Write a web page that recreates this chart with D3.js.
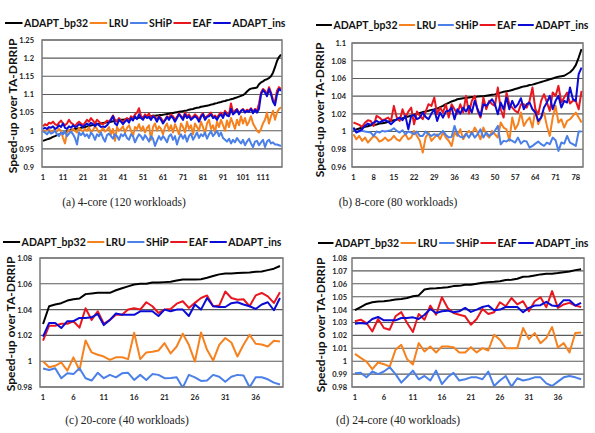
<!DOCTYPE html>
<html><head><meta charset="utf-8">
<script src="https://cdn.jsdelivr.net/npm/d3@7"></script>
<style>
body{margin:0;background:#fff;}
svg{display:block;}
</style></head>
<body>
<svg id="chart" width="595" height="433"></svg>
<script>
// ---------------- DATA ----------------
const seriesNames = ["ADAPT_bp32","LRU","SHiP","EAF","ADAPT_ins"];

// (a) 4-core, 120 workloads
const a_bp32 = [0.972,0.974,0.976,0.978,0.980,0.983,0.985,0.988,0.990,0.992,
0.994,0.996,0.998,1.000,1.002,1.003,1.005,1.006,1.007,1.008,
1.009,1.010,1.012,1.013,1.014,1.016,1.017,1.018,1.019,1.020,
1.021,1.022,1.023,1.024,1.025,1.026,1.027,1.028,1.029,1.030,
1.030,1.031,1.032,1.032,1.033,1.034,1.035,1.035,1.036,1.037,
1.037,1.038,1.039,1.039,1.040,1.041,1.041,1.042,1.043,1.043,
1.044,1.045,1.046,1.047,1.048,1.049,1.050,1.051,1.052,1.053,
1.054,1.055,1.056,1.058,1.059,1.060,1.062,1.063,1.064,1.066,
1.067,1.068,1.069,1.070,1.072,1.073,1.075,1.076,1.078,1.079,
1.081,1.082,1.084,1.085,1.087,1.088,1.090,1.092,1.094,1.096,
1.098,1.102,1.108,1.113,1.116,1.117,1.118,1.119,1.128,1.133,
1.136,1.140,1.142,1.145,1.150,1.160,1.175,1.192,1.203,1.210];
const a_lru = [1.000,0.998,1.002,1.005,0.995,1.000,1.003,0.998,1.005,1.000,
0.980,0.965,0.995,1.002,0.998,1.005,1.000,0.995,1.008,1.002,
0.998,1.005,1.000,1.010,0.995,1.002,1.012,1.005,0.995,1.000,
1.008,0.998,1.002,1.010,0.990,1.005,0.972,1.010,1.000,1.005,
1.012,0.995,1.008,1.015,1.000,0.985,1.010,1.005,1.018,1.000,
1.012,0.995,1.008,1.015,0.975,1.010,1.020,1.000,1.012,1.005,
0.990,1.010,1.020,1.000,1.015,0.995,1.018,1.005,0.990,1.020,
1.010,0.995,1.025,1.005,1.015,0.990,1.020,1.010,1.000,1.025,
1.010,0.992,1.020,1.030,1.005,1.015,0.995,1.025,1.010,1.030,
1.015,1.000,1.028,1.010,1.035,1.020,1.005,1.030,1.015,1.040,
1.020,1.035,1.015,1.025,1.040,1.020,1.010,1.000,0.995,1.005,
1.020,1.030,1.050,1.020,1.040,1.055,1.030,1.050,1.060,1.065];
const a_ship = [0.998,0.995,0.990,0.998,0.992,0.995,1.000,0.990,0.985,0.995,
0.990,0.998,0.985,0.992,0.998,0.990,0.980,0.962,0.995,0.988,
0.995,0.985,0.990,0.980,0.995,0.988,0.975,0.990,0.985,0.995,
0.980,0.970,0.988,0.992,0.985,0.978,0.990,0.985,0.975,0.990,
0.985,0.992,0.980,0.975,0.990,0.985,0.968,0.980,0.990,0.985,
0.975,0.988,0.980,0.970,0.985,0.978,0.958,0.972,0.985,0.975,
0.985,0.978,0.968,0.985,0.990,0.975,0.985,0.962,0.980,0.990,
0.978,0.988,0.970,0.985,0.992,0.975,0.985,0.995,0.980,0.990,
0.985,0.995,0.978,0.990,0.998,0.985,0.992,1.000,0.985,0.995,
0.980,0.975,0.970,0.978,0.965,0.975,0.968,0.980,0.972,0.965,
0.975,0.960,0.970,0.978,0.965,0.955,0.970,0.972,0.960,0.968,
0.975,0.955,0.970,0.975,0.965,0.968,0.962,0.962,0.960,0.958];
const a_eaf = [1.012,1.018,1.015,1.022,1.020,1.025,1.018,1.015,1.022,1.028,
1.020,1.015,1.020,1.030,1.022,1.018,1.012,1.020,1.025,1.020,
1.015,1.022,1.030,1.025,1.035,1.028,1.020,1.030,1.025,1.020,
1.018,1.022,1.028,1.025,1.032,1.042,1.030,1.025,1.035,1.028,
1.022,1.030,1.035,1.028,1.040,1.035,1.045,1.050,1.062,1.040,
1.035,1.045,1.040,1.048,1.035,1.042,1.038,1.030,1.040,1.035,
1.025,1.030,1.040,1.035,1.045,1.040,1.030,1.038,1.048,1.040,
1.035,1.050,1.040,1.045,1.035,1.038,1.045,1.040,1.030,1.042,
1.048,1.035,1.040,1.045,1.050,1.038,1.042,1.035,1.045,1.050,
1.040,1.055,1.048,1.045,1.075,1.050,1.055,1.060,1.048,1.055,
1.060,1.052,1.058,1.055,1.062,1.052,1.060,1.055,1.075,1.105,
1.115,1.110,1.100,1.120,1.105,1.085,1.080,1.110,1.120,1.115];
const a_ins = [1.005,1.008,1.005,1.010,1.008,1.012,1.005,1.008,1.015,1.010,
1.020,1.008,1.005,1.012,1.008,1.015,1.010,1.012,1.018,1.015,
1.010,1.015,1.020,1.015,1.022,1.018,1.012,1.020,1.015,1.010,
1.012,1.010,1.015,1.022,1.030,1.040,1.020,1.015,1.030,1.025,
1.018,1.025,1.030,1.022,1.035,1.028,1.040,1.032,1.045,1.035,
1.030,1.040,1.035,1.038,1.030,1.040,1.035,1.025,1.038,1.030,
1.020,1.028,1.038,1.030,1.040,1.035,1.025,1.035,1.045,1.038,
1.030,1.045,1.035,1.040,1.030,1.035,1.040,1.035,1.025,1.038,
1.045,1.030,1.038,1.040,1.045,1.035,1.038,1.030,1.040,1.045,
1.035,1.050,1.042,1.040,1.060,1.045,1.050,1.058,1.045,1.055,
1.058,1.050,1.055,1.052,1.060,1.048,1.058,1.050,1.060,1.100,
1.112,1.105,1.095,1.115,1.100,1.080,1.070,1.100,1.115,1.110];
const a_xTicks = [1,11,21,31,41,51,61,71,81,91,101,111];
const a_yTicks = [0.9,0.95,1,1.05,1.1,1.15,1.2,1.25];

// (b) 8-core, 80 workloads
const b_bp32 = [1.0015,1.0025,1.0035,1.0045,1.0055,1.006,1.007,1.0075,1.008,1.009,
1.0095,1.010,1.011,1.012,1.0128,1.0135,1.014,1.015,1.016,1.017,
1.018,1.019,1.020,1.021,1.022,1.0226,1.0235,1.0245,1.025,1.026,
1.0275,1.029,1.031,1.0325,1.034,1.035,1.0365,1.037,1.0375,1.038,
1.0385,1.039,1.039,1.0395,1.040,1.040,1.0405,1.041,1.0415,1.042,
1.043,1.044,1.045,1.0455,1.046,1.047,1.048,1.049,1.050,1.051,
1.0515,1.0525,1.053,1.054,1.055,1.056,1.057,1.058,1.059,1.060,
1.061,1.062,1.0625,1.063,1.065,1.067,1.070,1.075,1.0836,1.093];
const b_lru = [0.997,0.9913,0.9951,0.9895,0.9932,0.9876,0.9913,0.9951,0.9932,0.9887,
0.9902,0.9932,0.9895,0.9913,0.9951,0.9913,0.9895,0.994,0.997,0.9913,
0.9932,1.0008,0.9951,0.9895,0.9763,0.9932,0.9989,0.9895,0.9932,0.997,
0.9913,0.9989,0.9932,0.9895,0.9838,0.9989,0.9951,1.0026,0.9913,0.997,
1.0008,0.997,1.0045,0.9989,0.9913,1.0045,0.997,0.9932,1.0008,0.997,
0.9932,1.0102,1.0045,1.0026,0.9895,1.0158,1.0026,1.0083,1.0215,1.0064,
1.012,1.0158,1.0045,1.0252,1.0083,1.0158,1.0215,1.0064,0.9951,1.0158,
1.029,1.0102,1.0139,1.0045,1.012,1.0139,1.0177,1.0215,1.0158,1.0102];
const b_ship = [1.0026,1.0,1.0,1.0008,1.0,0.9996,0.9989,0.9951,1.0,0.9989,
1.0008,1.0,1.0008,1.0015,1.0038,1.0008,0.9989,1.0015,0.997,1.0,
0.9989,0.997,1.0,0.9951,0.9951,1.0,0.997,0.9951,0.997,0.9951,
0.9977,1.0008,0.9962,0.9932,0.994,1.0064,0.997,0.994,0.9932,0.9977,
0.9932,0.9989,0.9932,0.997,1.0026,0.9932,0.9989,0.9951,0.997,1.0008,
1.0064,0.9857,0.9895,0.9887,0.9913,0.9895,0.9876,0.9932,0.9864,0.9895,
0.9887,0.9819,0.9838,0.9864,0.9887,0.9857,0.9838,0.9876,0.9857,0.9932,
0.9902,0.9782,0.9876,0.9864,0.9951,0.9876,0.9857,0.9838,1.0,1.0];
const b_eaf = [1.0102,1.009,1.0075,1.0053,1.010,1.0128,1.012,1.0064,1.0177,1.0158,
1.0128,1.014,1.0158,1.012,1.029,1.0158,1.012,1.0252,1.0158,1.0226,
1.0271,1.0083,1.0226,1.0177,1.014,1.0226,1.0309,1.029,1.0384,1.0196,
1.0271,1.0215,1.0309,1.0158,1.0309,1.0252,1.0203,1.0309,1.0215,1.0403,
1.0203,1.0347,1.0403,1.0234,1.0158,1.0384,1.0252,1.0347,1.0309,1.029,
1.0497,1.0252,1.0158,1.0441,1.0309,1.0271,1.0234,1.0215,1.0309,1.0309,
1.0271,1.0347,1.0497,1.0252,1.0196,1.0347,1.0422,1.0328,1.0234,1.0441,
1.0403,1.0516,1.0328,1.0384,1.0441,1.0316,1.0347,1.0347,1.0252,1.046];
const b_ins = [1.0045,0.9989,1.0008,1.0026,1.0064,1.009,1.0075,1.0102,1.012,1.0102,
1.012,1.0128,1.0113,1.0083,1.0113,1.014,1.0158,1.0128,1.0177,1.0026,
1.0177,1.0188,1.014,1.0158,1.0215,1.0166,1.014,1.0203,1.0252,1.012,
1.0215,1.0158,1.0226,1.0234,1.0271,1.014,1.0252,1.0203,1.0271,1.0226,
1.029,1.0215,1.0347,1.0252,1.0177,1.0309,1.029,1.0328,1.0365,1.0309,
1.0196,1.0328,1.0252,1.0384,1.0252,1.0347,1.0271,1.0309,1.0377,1.0252,
1.0309,1.0328,1.0252,1.0215,1.012,1.0158,1.0271,1.0328,1.0403,1.0252,
1.0347,1.0403,1.0271,1.0347,1.0328,1.0497,1.0365,1.0347,1.0648,1.0723];
const b_xTicks = [1,8,15,22,29,36,43,50,57,64,71,78];
const b_yTicks = [0.96,0.98,1,1.02,1.04,1.06,1.08,1.1];

// (c) 20-core, 40 workloads
const c_bp32 = [1.0288,1.0426,1.044,1.045,1.047,1.048,1.0486,1.052,1.0525,1.053,
1.053,1.053,1.055,1.0566,1.058,1.0595,1.060,1.060,1.061,1.061,
1.0613,1.0616,1.0626,1.0634,1.0634,1.0634,1.0636,1.0647,1.066,1.0673,
1.068,1.068,1.0683,1.0686,1.0688,1.0694,1.0696,1.0706,1.0717,1.0738];
const c_lru = [1.0,0.9953,0.9964,0.999,0.9927,1.003,0.993,1.016,1.0068,1.005,
1.0036,1.001,1.003,1.003,1.0016,1.022,1.0016,1.0068,1.0073,1.0083,
1.014,1.006,1.0114,1.0213,1.0127,0.9997,1.0223,1.0088,1.0005,1.0127,
1.018,1.0145,1.0036,1.0127,1.0205,1.0135,1.013,1.0114,1.0158,1.0153];
const c_ship = [0.9943,0.9932,0.9945,0.9868,0.9906,0.990,0.9945,0.9868,0.985,0.991,
0.9868,0.9894,0.9875,0.9906,0.991,0.9855,0.9894,0.9855,0.990,0.9894,
0.9868,0.987,0.9875,0.9795,0.9894,0.9875,0.9847,0.985,0.9894,0.988,
0.984,0.988,0.9894,0.989,0.9798,0.9875,0.9875,0.986,0.9834,0.982];
const c_eaf = [1.016,1.0275,1.0275,1.029,1.029,1.031,1.026,1.041,1.032,1.0387,
1.029,1.032,1.036,1.036,1.040,1.041,1.040,1.0457,1.0426,1.0374,
1.040,1.0405,1.0446,1.0465,1.0413,1.0452,1.049,1.051,1.0426,1.0431,
1.054,1.049,1.0477,1.048,1.0426,1.051,1.0529,1.0503,1.0452,1.0535];
const c_ins = [1.019,1.0296,1.0296,1.0257,1.031,1.031,1.0335,1.0335,1.034,1.0366,
1.028,1.032,1.037,1.036,1.036,1.036,1.0387,1.0387,1.0387,1.035,
1.040,1.0387,1.040,1.040,1.035,1.044,1.040,1.049,1.0426,1.042,
1.042,1.045,1.0457,1.044,1.0426,1.0405,1.044,1.0457,1.0395,1.049];
const c_xTicks = [1,6,11,16,21,26,31,36];
const c_yTicks = [0.98,1,1.02,1.04,1.06,1.08];

// (d) 24-core, 40 workloads
const d_bp32 = [1.0395,1.042,1.0444,1.0457,1.0462,1.0465,1.047,1.0478,1.0483,1.049,
1.0504,1.051,1.0556,1.0564,1.0566,1.0569,1.0574,1.0582,1.0584,1.0592,
1.0592,1.060,1.0608,1.0613,1.0616,1.062,1.0629,1.0631,1.0639,1.0655,
1.0657,1.0665,1.0673,1.0678,1.0678,1.0683,1.069,1.0696,1.0706,1.0712];
const d_lru = [1.0057,1.0026,0.9997,0.9938,0.999,0.9977,0.9958,1.0088,1.0127,1.0016,
0.9974,1.014,1.0075,1.0114,1.0068,1.0114,1.0114,1.0109,1.0068,1.0068,
1.0109,1.0068,1.0101,1.0083,1.0205,1.0166,1.0101,1.0101,1.0101,1.0257,
1.0171,1.0218,1.014,1.0179,1.0265,1.0106,1.014,1.0068,1.0218,1.0223];
const d_ship = [0.9906,0.991,0.9875,0.992,0.990,0.992,0.9953,0.990,0.9834,0.988,
0.9927,0.986,0.9886,0.985,0.9927,0.9823,0.9875,0.991,0.985,0.986,
0.9875,0.9875,0.986,0.992,0.9808,0.985,0.9886,0.9803,0.9868,0.985,
0.986,0.9875,0.9875,0.9828,0.9808,0.9842,0.9875,0.9886,0.9875,0.986];
const d_eaf = [1.031,1.0322,1.0296,1.023,1.0327,1.0257,1.0244,1.0348,1.038,1.0296,
1.0226,1.0366,1.0322,1.0431,1.036,1.0496,1.0413,1.0374,1.036,1.0348,
1.0283,1.0327,1.0405,1.0366,1.038,1.0457,1.0426,1.049,1.044,1.0465,
1.0387,1.0465,1.0496,1.0418,1.0543,1.0413,1.044,1.0452,1.0431,1.042];
const d_ins = [1.0291,1.0296,1.029,1.0327,1.0343,1.0317,1.0317,1.0317,1.0335,1.0335,
1.034,1.0327,1.036,1.0405,1.0374,1.0387,1.0392,1.038,1.0387,1.0413,
1.0382,1.040,1.042,1.0431,1.0395,1.040,1.042,1.042,1.042,1.038,
1.0413,1.0431,1.0434,1.046,1.0431,1.0426,1.0473,1.0473,1.0431,1.0452];
const d_xTicks = [1,6,11,16,21,26,31,36];
const d_yTicks = [0.98,0.99,1,1.01,1.02,1.03,1.04,1.05,1.06,1.07,1.08];

const captions = ["(a) 4-core (120 workloads)","(b) 8-core (80 workloads)","(c) 20-core (40 workloads)","(d) 24-core (40 workloads)"];
const yTitle = "Speed-up over TA-DRRIP";

// ---------------- STYLE ----------------
const colors = ["#000000","#F5821F","#4A80E8","#E8171F","#0B0BD6"];
const sansFont = "Lato, 'Open Sans', 'Liberation Sans', sans-serif";
const serifFont = "'Liberation Serif', 'DejaVu Serif', serif";

const svg = d3.select("#chart");

const panels = [
  {series:[a_bp32,a_lru,a_ship,a_eaf,a_ins], xTicks:a_xTicks, yTicks:a_yTicks, dom:[0.9,1.25],
   box:{l:42,r:282,t:40,b:167}, legend:{x:5,y:23,w:282}, title:{x:12,y:106}, cap:{x:124,y:202}, ylabGap:8},
  {series:[b_bp32,b_lru,b_ship,b_eaf,b_ins], xTicks:b_xTicks, yTicks:b_yTicks, dom:[0.96,1.1],
   box:{l:352,r:583,t:43,b:167}, legend:{x:316,y:25,w:274}, title:{x:319,y:110}, cap:{x:398,y:202}, ylabGap:6},
  {series:[c_bp32,c_lru,c_ship,c_eaf,c_ins], xTicks:c_xTicks, yTicks:c_yTicks, dom:[0.98,1.08],
   box:{l:40,r:283,t:258,b:387}, legend:{x:3,y:242,w:280}, title:{x:10,y:324}, cap:{x:127,y:420}, ylabGap:8},
  {series:[d_bp32,d_lru,d_ship,d_eaf,d_ins], xTicks:d_xTicks, yTicks:d_yTicks, dom:[0.98,1.08],
   box:{l:352,r:584,t:258,b:387}, legend:{x:318,y:243,w:272}, title:{x:320,y:325}, cap:{x:398,y:420}, ylabGap:5}
];

const fmt = v => String(+v.toFixed(2));

panels.forEach((p, pi) => {
  const n = p.series[0].length;
  const cats = d3.range(1, n + 1);
  const x = d3.scaleBand().domain(cats).range([p.box.l, p.box.r]);
  const y = d3.scaleLinear().domain(p.dom).range([p.box.b, p.box.t]);
  const g = svg.append("g");

  // gridlines
  g.append("g").selectAll("line").data(p.yTicks).join("line")
    .attr("x1", p.box.l).attr("x2", p.box.r)
    .attr("y1", d => y(d)).attr("y2", d => y(d))
    .attr("stroke", "#5a5a5a").attr("stroke-width", 1.1);

  // y axis labels
  const yAxis = d3.axisLeft(y).tickValues(p.yTicks).tickFormat(fmt).tickSize(0).tickPadding(p.ylabGap);
  const ya = g.append("g").attr("transform", `translate(${p.box.l},0)`).call(yAxis);
  ya.select(".domain").remove();
  ya.selectAll("text").attr("font-family", sansFont).attr("font-weight", "bold")
    .attr("font-size", 7.5).attr("fill", "#222");

  // x axis labels
  const xAxis = d3.axisBottom(x).tickValues(p.xTicks).tickSize(0).tickPadding(8);
  const xa = g.append("g").attr("transform", `translate(0,${p.box.b})`).call(xAxis);
  xa.select(".domain").remove();
  xa.selectAll("text").attr("font-family", sansFont).attr("font-weight", "bold")
    .attr("font-size", 7.5).attr("fill", "#222");

  // clip
  const cid = "clip" + pi;
  svg.append("clipPath").attr("id", cid).append("rect")
    .attr("x", p.box.l).attr("y", p.box.t - 1)
    .attr("width", p.box.r - p.box.l).attr("height", p.box.b - p.box.t + 2);

  const line = d3.line().x((d, i) => x(cats[i]) + x.bandwidth() / 2).y(d => y(d));
  const lg = g.append("g").attr("clip-path", `url(#${cid})`);
  p.series.forEach((s, si) => {
    lg.append("path").datum(s).attr("d", line).attr("fill", "none")
      .attr("stroke", colors[si]).attr("stroke-width", 2).attr("stroke-linejoin", "round");
  });

  // frame
  g.append("rect").attr("x", p.box.l).attr("y", p.box.t)
    .attr("width", p.box.r - p.box.l).attr("height", p.box.b - p.box.t)
    .attr("fill", "none").attr("stroke", "#7a7a7a").attr("stroke-width", 1.5);

  // y title
  g.append("text").attr("transform", `translate(${p.title.x},${p.title.y}) rotate(-90)`)
    .attr("text-anchor", "middle").attr("dominant-baseline", "central")
    .attr("font-family", sansFont).attr("font-weight", "bold").attr("font-size", 12)
    .attr("fill", "#111").text(yTitle);

  // legend: measure, then fit into the reference width
  const lgG = g.append("g");
  const items = seriesNames.map((name, si) => {
    const t = lgG.append("text").attr("y", p.legend.y)
      .attr("dominant-baseline", "central")
      .attr("font-family", sansFont).attr("font-weight", "bold").attr("font-size", 10.5)
      .attr("fill", "#111").text(name);
    return {t, w: t.node().getComputedTextLength(), si};
  });
  const textTotal = d3.sum(items, d => d.w);
  const segLen = Math.max(12, (p.legend.w - textTotal - 5 * 3) / 5);
  let lx = p.legend.x;
  items.forEach(it => {
    lgG.append("line").attr("x1", lx).attr("x2", lx + segLen)
      .attr("y1", p.legend.y).attr("y2", p.legend.y)
      .attr("stroke", colors[it.si]).attr("stroke-width", 2);
    it.t.attr("x", lx + segLen + 1.5);
    lx += segLen + 1.5 + it.w + 1.5;
  });

  // caption
  svg.append("text").attr("x", p.cap.x).attr("y", p.cap.y)
    .attr("text-anchor", "middle").attr("dominant-baseline", "central")
    .attr("font-family", serifFont).attr("font-size", 11.5).attr("fill", "#222")
    .text(captions[pi]);
});
</script>
</body></html>
